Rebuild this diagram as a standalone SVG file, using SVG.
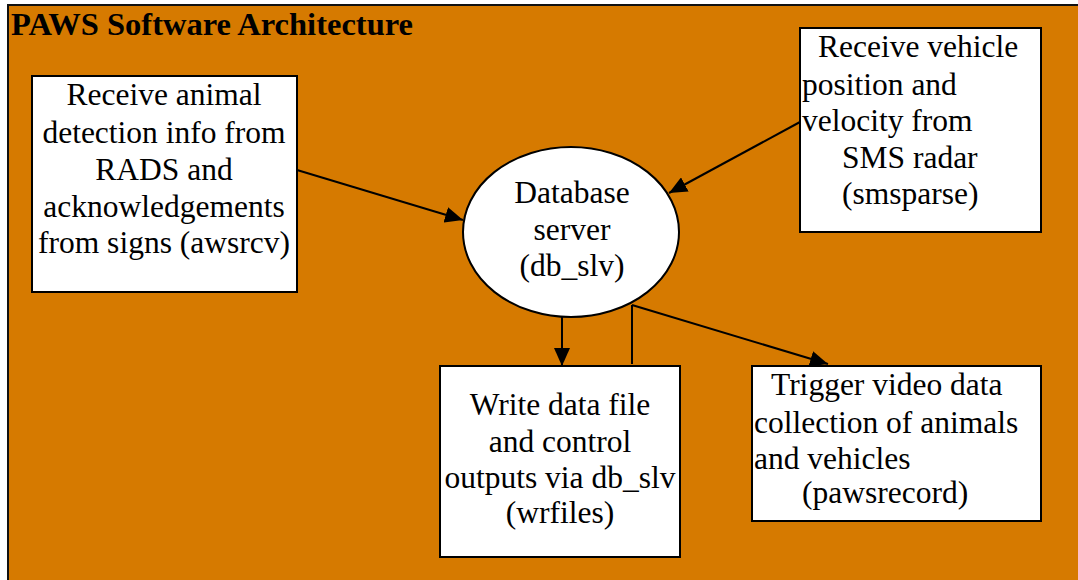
<svg xmlns="http://www.w3.org/2000/svg" width="1078" height="580" viewBox="0 0 1078 580">
<style>
.bg{fill:#D67A00;stroke:#111;stroke-width:2}
.box{fill:#fff;stroke:#000;stroke-width:2}
.t{font-family:'Liberation Serif',serif;font-size:31.5px;fill:#000}
.c{text-anchor:middle}
.title{font-family:'Liberation Serif',serif;font-size:32.5px;font-weight:bold;fill:#000}
.ln{stroke:#000;stroke-width:2;fill:none}
</style>
<defs>
<marker id="ah" markerWidth="18" markerHeight="16" refX="18" refY="8" orient="auto" markerUnits="userSpaceOnUse">
<path d="M0,0 L18,8 L0,16 Z" fill="#000"/>
</marker>
</defs>
<rect class="bg" x="8" y="5" width="1090" height="600"/>
<text class="title" x="11" y="35">PAWS Software Architecture</text>
<g id="connectors">
<line class="ln" x1="297" y1="170" x2="463" y2="220" marker-end="url(#ah)"/>
<line class="ln" x1="800" y1="122" x2="669" y2="193" marker-end="url(#ah)"/>
<line class="ln" x1="562" y1="317" x2="562" y2="366" marker-end="url(#ah)"/>
<line class="ln" x1="632" y1="305" x2="632" y2="364"/>
<line class="ln" x1="632" y1="305" x2="828" y2="364" marker-end="url(#ah)"/>
</g>
<g id="node-awsrcv">
<rect class="box" x="32" y="76" width="265" height="216"/>
<text class="t c" x="164" y="105">Receive animal</text>
<text class="t c" x="164" y="143">detection info from</text>
<text class="t c" x="164" y="180">RADS and</text>
<text class="t c" x="164" y="217">acknowledgements</text>
<text class="t c" x="164" y="253">from signs (awsrcv)</text>
</g>
<g id="node-db">
<ellipse class="box" cx="571" cy="232" rx="108" ry="85"/>
<text class="t c" x="572" y="203">Database</text>
<text class="t c" x="572" y="240">server</text>
<text class="t c" x="572" y="276">(db_slv)</text>
</g>
<g id="node-smsparse">
<rect class="box" x="800" y="28" width="241" height="204"/>
<text class="t" x="818" y="57">Receive vehicle</text>
<text class="t" x="802" y="95">position and</text>
<text class="t" x="802" y="131">velocity from</text>
<text class="t" x="842" y="168">SMS radar</text>
<text class="t" x="842" y="204">(smsparse)</text>
</g>
<g id="node-wrfiles">
<rect class="box" x="440" y="366" width="240" height="191"/>
<text class="t c" x="560" y="415">Write data file</text>
<text class="t c" x="560" y="452">and control</text>
<text class="t c" x="560" y="488">outputs via db_slv</text>
<text class="t c" x="560" y="523">(wrfiles)</text>
</g>
<g id="node-pawsrecord">
<rect class="box" x="752" y="366" width="289" height="155"/>
<text class="t" x="771" y="395">Trigger video data</text>
<text class="t" x="754" y="433">collection of animals</text>
<text class="t" x="754" y="469">and vehicles</text>
<text class="t" x="802" y="503">(pawsrecord)</text>
</g>
</svg>
